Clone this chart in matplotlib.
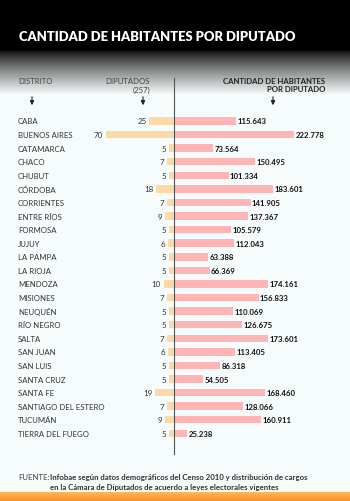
import numpy as np
import matplotlib
matplotlib.use("Agg")
from matplotlib import pyplot as plt
from matplotlib.lines import Line2D

distritos = ["CABA", "BUENOS AIRES", "CATAMARCA", "CHACO", "CHUBUT", "CÓRDOBA",
             "CORRIENTES", "ENTRE RÍOS", "FORMOSA", "JUJUY", "LA PAMPA", "LA RIOJA",
             "MENDOZA", "MISIONES", "NEUQUÉN", "RÍO NEGRO", "SALTA", "SAN JUAN",
             "SAN LUIS", "SANTA CRUZ", "SANTA FE", "SANTIAGO DEL ESTERO", "TUCUMÁN",
             "TIERRA DEL FUEGO"]
diputados = [25, 70, 5, 7, 5, 18, 7, 9, 5, 6, 5, 5, 10, 7, 5, 5, 7, 6, 5, 5, 19, 7, 9, 5]
habitantes = [115643, 222778, 73564, 150495, 101334, 183601, 141905, 137367, 105579,
              112043, 63388, 66369, 174161, 156833, 110069, 126675, 173601, 113405,
              86318, 54505, 168460, 128066, 160911, 25238]

W, H = 350, 502
plt.rcParams['font.family'] = ['Lato', 'DejaVu Sans']

def fx(px):
    return px / W

def fy(py):
    return 1 - py / H

fig = plt.figure(figsize=(3.5, 5.02), dpi=100)

# background gradient
bg = fig.add_axes([0, 0, 1, 1], zorder=-10)
bg.set_axis_off()
rows = np.arange(H)
light = np.array([0.965, 0.988, 0.99])
img = np.zeros((H, 1, 3))
for r in rows:
    if r < 50:
        t = 0.0
    elif r < 95:
        t = ((r - 50) / 45.0) ** 0.8
    else:
        t = 1.0
    img[r, 0] = light * t
    if r >= 493:
        s = (r - 493) / 9.0
        img[r, 0] = np.array([0.99, 0.72, 0.35]) * (1 - s) + np.array([0.96, 0.55, 0.12]) * s
bg.imshow(img, aspect='auto', extent=[0, 1, 0, 1], transform=bg.transAxes)

n = len(distritos)
top_px, step = 122.0, 13.58
ax_top = top_px - step / 2
ax_h = step * n
axis_px = 173.5

ax_l = fig.add_axes([0, fy(ax_top + ax_h), fx(axis_px), ax_h / H])
ax_r = fig.add_axes([fx(axis_px), fy(ax_top + ax_h), 1 - fx(axis_px), ax_h / H])
for ax in (ax_l, ax_r):
    ax.set_axis_off()
    ax.set_ylim(n - 0.5, -0.5)

ypos = np.arange(n)
ax_l.barh(ypos, diputados, height=0.55, color="#fdd9a6")
ax_l.set_xlim(axis_px / 0.97, 0)
ax_r.barh(ypos, habitantes, height=0.55, color="#ffb4b6")
ax_r.set_xlim(0, (W - axis_px) / 0.000543)

tl = ax_l.get_yaxis_transform()
for i, (d, v, h) in enumerate(zip(distritos, diputados, habitantes)):
    ax_l.text(fx(18) / fx(axis_px), i, d, transform=tl, ha='left', va='center',
              fontsize=5.6, color="#333333")
    ax_l.text(v + 3, i, str(v), ha='right', va='center', fontsize=5.8, color="#333333")
    ax_r.text(h + 2500, i, f"{h:,}".replace(",", "."), ha='left', va='center',
              fontsize=5.6, fontweight='bold', color="#111111")

# vertical axis line
fig.add_artist(Line2D([fx(axis_px), fx(axis_px)], [fy(79), fy(455)], color="#555555", lw=0.8))

# title
fig.text(fx(19), fy(37), "CANTIDAD DE HABITANTES POR DIPUTADO", ha='left', va='center',
         fontsize=9.4, fontweight='heavy', color="white")

# column headers
fig.text(fx(18), fy(82), "DISTRITO", ha='left', va='center', fontsize=5.6, color="#444444")
fig.text(fx(150), fy(82), "DIPUTADOS", ha='right', va='center', fontsize=5.6, color="#444444")
fig.text(fx(150), fy(90), "(257)", ha='right', va='center', fontsize=5.6, color="#444444")
fig.text(fx(325), fy(82), "CANTIDAD DE HABITANTES", ha='right', va='center', fontsize=5.6,
         fontweight='bold', color="#222222")
fig.text(fx(325), fy(90), "POR DIPUTADO", ha='right', va='center', fontsize=5.6,
         fontweight='bold', color="#222222")

for x in (32, 143, 273):
    fig.add_artist(matplotlib.patches.FancyArrowPatch(
        (fx(x), fy(95)), (fx(x), fy(109)), transform=fig.transFigure,
        arrowstyle='-|>', mutation_scale=6, lw=0.8, color="#222222"))

# footer
fig.text(fx(18), fy(478), "FUENTE:", ha='left', va='center', fontsize=5.6, color="#444444")
fig.text(fx(50), fy(478), "Infobae según datos demográficos del Censo 2010 y distribución de cargos",
         ha='left', va='center', fontsize=5.6, fontweight='bold', color="#333333")
fig.text(fx(50), fy(488), "en la Cámara de Diputados de acuerdo a leyes electorales vigentes",
         ha='left', va='center', fontsize=5.6, fontweight='bold', color="#333333")

fig.savefig("out.png", dpi=100)
